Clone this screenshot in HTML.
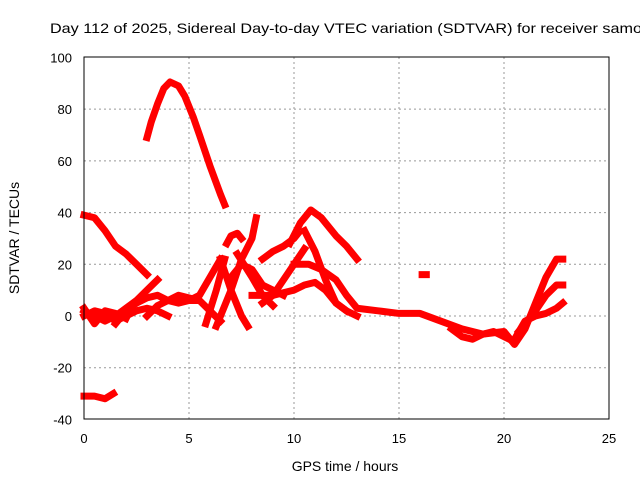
<!DOCTYPE html>
<html><head><meta charset="utf-8"><style>
body{margin:0;background:#fff;}
svg{display:block;font-family:"Liberation Sans",sans-serif;}
</style></head><body>
<svg id="chart" width="640" height="480">
<rect width="640" height="480" fill="#fff"/>
<text x="50" y="33" font-size="14" textLength="592" lengthAdjust="spacingAndGlyphs" fill="#000">Day 112 of 2025, Sidereal Day-to-day VTEC variation (SDTVAR) for receiver samo</text>
<g id="grid"></g>
<g id="marks"></g>
<rect x="84" y="57" width="525" height="362" fill="none" stroke="#000" stroke-width="1"/>
<g id="ticks" font-size="13"></g>
<text x="345" y="471" font-size="14" text-anchor="middle">GPS time / hours</text>
<text transform="translate(19,238) rotate(-90)" font-size="14" text-anchor="middle">SDTVAR / TECUs</text>
</svg>
<script>
const xTicks=[0,5,10,15,20,25];
const yTicks=[-40,-20,0,20,40,60,80,100];
const sArc=[[3.0,69],[3.2,75],[3.5,82],[3.8,88],[4.1,90.5],[4.5,89],[4.8,85],[5.2,77],[5.5,70],[6,58],[6.5,47],[6.7,43]];
const sDesc=[[0,39],[0.5,38],[1,33],[1.5,27],[2,24],[2.5,20],[3,16]];
const sNeg=[[0,-31],[0.5,-31],[1,-32],[1.4,-30]];
const sPeak=[[9.8,28],[10.3,36],[10.8,41],[11.3,38],[12,31],[12.5,27],[13,22]];
const sE=[[0,2],[0.5,0],[1,-2],[1.5,0],[2,3],[2.5,6],[3,10],[3.5,14]];
const sF=[[0,0],[0.5,2],[1,1],[1.5,-2],[2,0],[2.5,2],[3,3],[3.5,2],[4,0]];
const sG=[[1.5,-3],[2,2],[2.5,5],[3,7],[3.5,8],[4,6],[4.5,5],[5,6],[5.5,6],[6,2],[6.5,-2]];
const sH=[[0,3],[0.5,-3],[1,2],[1.5,1],[2,-1]];
const sI=[[5.8,-3],[6.3,10],[6.7,22]];
const sJ=[[4.2,6],[5,6],[5.5,8],[6,15],[6.5,22]];
const sK=[[6.8,28],[7.0,31],[7.3,32],[7.5,30]];
const sL=[[6.3,-4],[7,10],[7.5,22],[8,30],[8.2,38]];
const sM=[[6.5,22],[7,10],[7.5,0],[7.8,-4]];
const sN=[[7.3,24],[8,15],[8.5,8],[9,4]];
const sO=[[8.5,5],[9,8],[9.5,14],[10,20],[10.5,26]];
const sP=[[8,8],[9,8],[10,10],[10.5,12],[11,13],[11.5,10],[12,5],[12.5,2],[13,0]];
const sQ=[[10.5,33],[11,25],[11.5,14],[12,5],[12.5,2]];
const sR=[[10,20],[10.7,20],[11.3,18],[12,14],[12.5,8],[13,3],[14,2],[15,1],[16,1],[17,-2],[18,-5],[19,-7],[20,-6],[20.5,-11],[21,-5],[21.5,5],[22,15],[22.5,22],[22.8,22]];
const sS=[[20.7,-6],[21.5,2],[22,8],[22.5,12],[22.8,12]];
const sT=[[20.5,-9],[21,-2],[21.5,0],[22,1],[22.5,3],[22.8,5]];
const sV=[[17.5,-5],[18,-8],[18.5,-9],[19,-7],[19.5,-6],[20.5,-10]];
const sW=[[16.1,16],[16.3,16]];
const sX=[[7,15],[7.5,20],[8,18],[8.5,12],[9,10],[9.5,8]];
const sY=[[8.5,22],[9,25],[9.5,27],[10,30],[10.2,32]];
const sZ=[[3.0,0],[3.5,4],[4,6],[4.5,8],[5,7]];
const allSeries=[sArc,sDesc,sNeg,sPeak,sE,sF,sG,sH,sI,sJ,sK,sL,sM,sN,sO,sP,sQ,sR,sS,sT,sV,sW,sX,sY,sZ];
const X=h=>84+h*21, Y=v=>316-v*362/140;
const NS="http://www.w3.org/2000/svg";
const grid=document.getElementById('grid'),ticks=document.getElementById('ticks'),marks=document.getElementById('marks');
xTicks.forEach(t=>{
 if(t>0&&t<25){const l=document.createElementNS(NS,'line');
 
 
 l.setAttribute('x1',X(t));l.setAttribute('x2',X(t));l.setAttribute('y1',57);l.setAttribute('y2',419);
 l.setAttribute('stroke','#999');l.setAttribute('stroke-dasharray','2,3');grid.appendChild(l);}
 const tk=document.createElementNS(NS,'text');
 
 
 tk.setAttribute('x',X(t));tk.setAttribute('y',443);tk.setAttribute('text-anchor','middle');tk.textContent=t;ticks.appendChild(tk);
});
yTicks.forEach(t=>{
 if(t>-40&&t<100){const l=document.createElementNS(NS,'line');
 
 
 l.setAttribute('x1',84);l.setAttribute('x2',609);l.setAttribute('y1',Y(t));l.setAttribute('y2',Y(t));
 l.setAttribute('stroke','#999');l.setAttribute('stroke-dasharray','2,3');grid.appendChild(l);}
 const tk=document.createElementNS(NS,'text');
 
 
 tk.setAttribute('x',72);tk.setAttribute('y',Y(t)+5);tk.setAttribute('text-anchor','end');tk.textContent=t;ticks.appendChild(tk);
});
allSeries.forEach(s=>{
 const p=document.createElementNS(NS,'polyline');
 
 
 p.setAttribute('points',s.map(d=>X(d[0])+','+Y(d[1])).join(' '));
 p.setAttribute('fill','none');p.setAttribute('stroke','#f00');p.setAttribute('stroke-width','7');
 p.setAttribute('stroke-linejoin','round');p.setAttribute('stroke-linecap','square');
 marks.appendChild(p);
});
</script>
</body></html>
